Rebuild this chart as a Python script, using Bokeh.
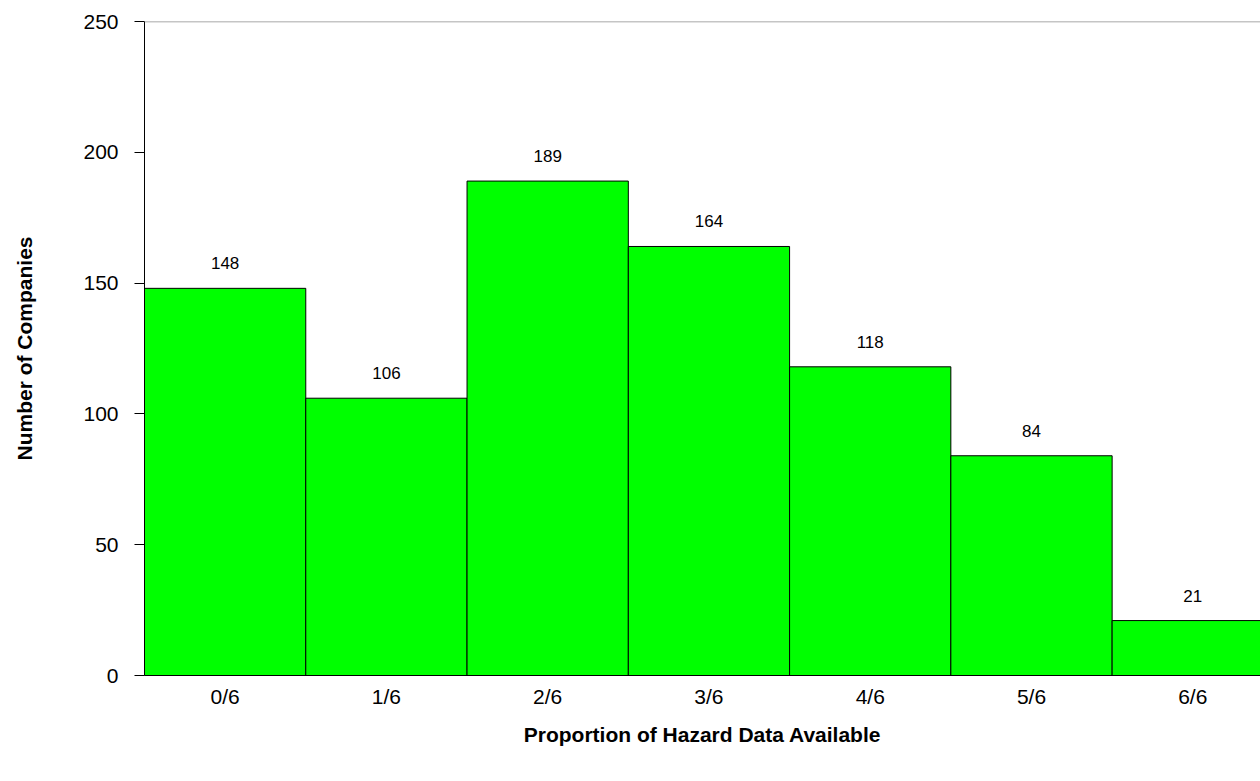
from bokeh.plotting import figure
from bokeh.models import Range1d, FixedTicker, Span, ColumnDataSource
from bokeh.core.properties import value
from bokeh.embed import file_html
from bokeh.resources import INLINE

categories = ["0/6", "1/6", "2/6", "3/6", "4/6", "5/6", "6/6"]
counts = [148, 106, 189, 164, 118, 84, 21]
y_ticks = [0, 50, 100, 150, 200, 250]

xs = [i + 0.5 for i in range(len(categories))]
src = ColumnDataSource(dict(x=xs, top=counts, label=[str(c) for c in counts]))

FONT = "Liberation Sans"

p = figure(width=1260, height=773, output_backend="svg", toolbar_location=None,
           x_range=Range1d(0, 6.92), y_range=Range1d(0, 250),
           min_border_left=144, min_border_right=0, min_border_top=21, min_border_bottom=98)
p.outline_line_color = None
p.xgrid.visible = False
p.ygrid.visible = False

p.vbar(x="x", top="top", bottom=0, width=1.0, source=src,
       fill_color="#00FF00", line_color="black", line_width=1)

p.text(x="x", y="top", text="label", source=src, text_align="center",
       text_baseline="alphabetic", y_offset=-25, text_font=value(FONT),
       text_font_size="17px", text_color="black")

p.add_layout(Span(location=250, dimension="width", line_color="#8c8c8c", line_width=1.5))

# y axis
p.yaxis.ticker = FixedTicker(ticks=y_ticks)
p.yaxis.minor_tick_line_color = None
p.yaxis.major_tick_in = 0
p.yaxis.major_tick_out = 10
p.yaxis.axis_line_color = "black"
p.yaxis.major_tick_line_color = "black"
p.yaxis.major_label_text_font = FONT
p.yaxis.major_label_text_font_size = "21px"
p.yaxis.major_label_text_color = "black"
p.yaxis.major_label_standoff = 16
p.yaxis.axis_label = "Number of Companies"
p.yaxis.axis_label_text_font = FONT
p.yaxis.axis_label_text_font_style = "bold"
p.yaxis.axis_label_text_font_size = "21px"
p.yaxis.axis_label_text_color = "black"
p.yaxis.axis_label_standoff = 44

# x axis
p.xaxis.ticker = FixedTicker(ticks=xs)
p.xaxis.major_label_overrides = {x: c for x, c in zip(xs, categories)}
p.xaxis.minor_tick_line_color = None
p.xaxis.major_tick_line_color = None
p.xaxis.major_tick_in = 0
p.xaxis.major_tick_out = 0
p.xaxis.axis_line_color = "black"
p.xaxis.major_label_text_font = FONT
p.xaxis.major_label_text_font_size = "21px"
p.xaxis.major_label_text_color = "black"
p.xaxis.major_label_standoff = 9
p.xaxis.axis_label = "Proportion of Hazard Data Available"
p.xaxis.axis_label_text_font = FONT
p.xaxis.axis_label_text_font_style = "bold"
p.xaxis.axis_label_text_font_size = "21px"
p.xaxis.axis_label_text_color = "black"
p.xaxis.axis_label_standoff = 12

open("out.html", "w").write(file_html(p, INLINE))
